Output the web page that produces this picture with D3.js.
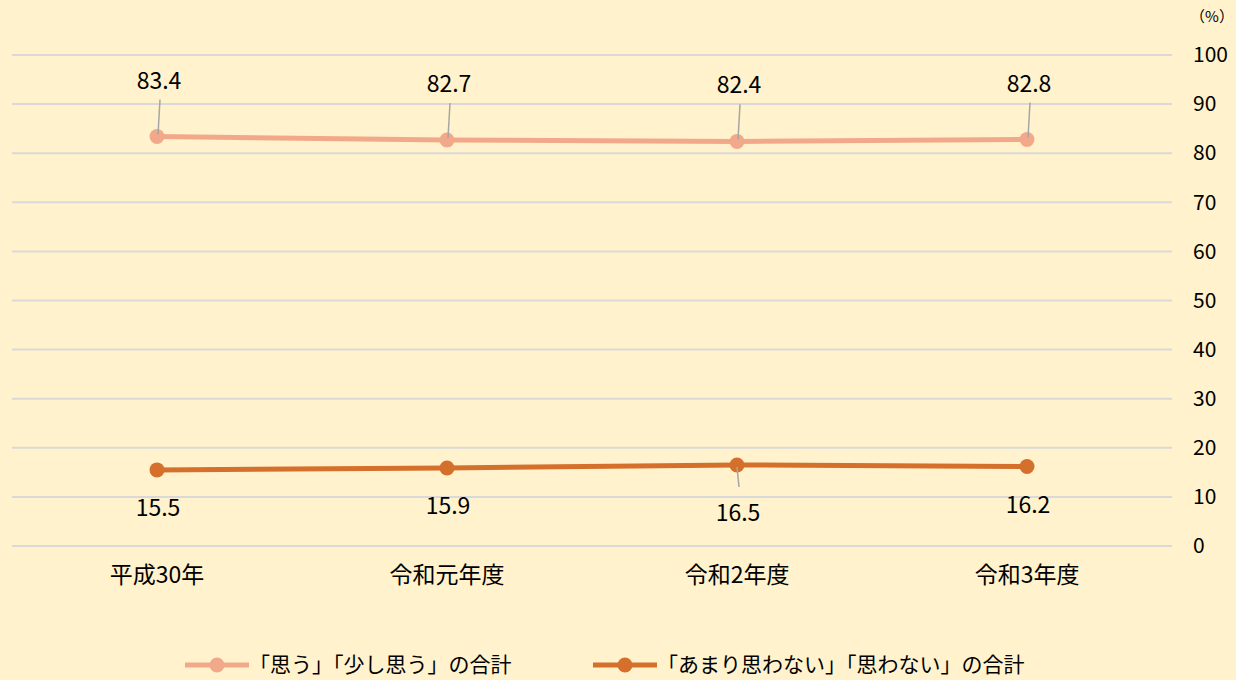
<!DOCTYPE html>
<html>
<head>
<meta charset="utf-8">
<script src="https://cdn.jsdelivr.net/npm/d3@7/dist/d3.min.js"></script>
<style>
  html, body { margin: 0; padding: 0; background: #fff2cc; }
  svg { display: block; font-family: "Noto Sans CJK JP", "Noto Sans", sans-serif; }
</style>
</head>
<body>
<div id="chart"></div>
<script>
var width = 1236,
    height = 680;

// data
var categories = ["平成30年", "令和元年度", "令和2年度", "令和3年度"];
var seriesNames = ["「思う」「少し思う」の合計", "「あまり思わない」「思わない」の合計"];
var agreeValues = [83.4, 82.7, 82.4, 82.8];
var disagreeValues = [15.5, 15.9, 16.5, 16.2];
var yTicks = [0, 10, 20, 30, 40, 50, 60, 70, 80, 90, 100];

var colors = ["#f2a98b", "#d4702c"];

var svg = d3.select("#chart").append("svg")
    .attr("width", width)
    .attr("height", height);

var xScale = d3.scaleBand().domain(categories).range([12, 1172]);
var yScale = d3.scaleLinear().domain([0, 100]).range([546, 55]);

// grid lines
svg.append("g").selectAll("line")
    .data(yTicks)
    .enter().append("line")
    .attr("x1", 12)
    .attr("x2", 1172)
    .attr("y1", function(d) { return yScale(d); })
    .attr("y2", function(d) { return yScale(d); })
    .attr("stroke", "#d9d9d9")
    .attr("stroke-width", 2);

// y axis on the right
var yAxis = d3.axisRight(yScale).tickValues(yTicks).tickSize(0).tickPadding(0);
svg.append("g")
    .attr("transform", "translate(1193,0)")
    .call(yAxis)
    .call(function(g) { g.select(".domain").remove(); })
    .selectAll("text")
    .attr("font-size", 21)
    .attr("fill", "#000")
    .attr("font-family", "'Noto Sans CJK JP', sans-serif");

svg.append("text")
    .attr("x", 1212)
    .attr("y", 22)
    .attr("text-anchor", "middle")
    .attr("font-size", 15)
    .text("（%）");

// x axis labels
var xAxis = d3.axisBottom(xScale).tickSize(0).tickPadding(0);
svg.append("g")
    .attr("transform", "translate(0,567)")
    .call(xAxis)
    .call(function(g) { g.select(".domain").remove(); })
    .selectAll("text")
    .attr("font-size", 23)
    .attr("fill", "#000")
    .attr("font-family", "'Noto Sans CJK JP', sans-serif");

var xMid = function(d, i) { return xScale(categories[i]) + xScale.bandwidth() / 2; };

var line = d3.line()
    .x(function(d, i) { return xMid(d, i); })
    .y(function(d) { return yScale(d); });

var allSeries = [agreeValues, disagreeValues];

allSeries.forEach(function(values, s) {
    var g = svg.append("g");
    g.append("path")
        .datum(values)
        .attr("d", line)
        .attr("fill", "none")
        .attr("stroke", colors[s])
        .attr("stroke-width", 5);
    g.selectAll("circle")
        .data(values)
        .enter().append("circle")
        .attr("cx", xMid)
        .attr("cy", function(d) { return yScale(d); })
        .attr("r", 7.5)
        .attr("fill", colors[s]);
});

// data labels with leader lines
var upperOffset = -56,
    lowerOffset = 38;

var upper = svg.append("g");
upper.selectAll("line")
    .data(agreeValues)
    .enter().append("line")
    .attr("x1", function(d, i) { return xMid(d, i) + 1; })
    .attr("y1", function(d) { return yScale(d) - 2; })
    .attr("x2", function(d, i) { return xMid(d, i) + 3; })
    .attr("y2", function(d) { return yScale(d) + upperOffset + 19; })
    .attr("stroke", "#a6a6a6")
    .attr("stroke-width", 1.5);
upper.selectAll("text")
    .data(agreeValues)
    .enter().append("text")
    .attr("x", function(d, i) { return xMid(d, i) + 2; })
    .attr("y", function(d) { return yScale(d) + upperOffset; })
    .attr("dy", "0.35em")
    .attr("text-anchor", "middle")
    .attr("font-size", 23)
    .text(function(d) { return d.toFixed(1); });

var lower = svg.append("g");
// only the 16.5 point gets a visible leader line (label sits further away)
lower.selectAll("line")
    .data(disagreeValues.filter(function(d) { return d === d3.max(disagreeValues); }))
    .enter().append("line")
    .attr("x1", xMid(null, 2))
    .attr("y1", function(d) { return yScale(d) + 2; })
    .attr("x2", xMid(null, 2) + 2)
    .attr("y2", function(d) { return yScale(d) + 22; })
    .attr("stroke", "#a6a6a6")
    .attr("stroke-width", 1.5);
lower.selectAll("text")
    .data(disagreeValues)
    .enter().append("text")
    .attr("x", function(d, i) { return xMid(d, i) + 1; })
    .attr("y", function(d) {
        var extra = d === d3.max(disagreeValues) ? 10 : 0;
        return yScale(d) + lowerOffset + extra;
    })
    .attr("dy", "0.35em")
    .attr("text-anchor", "middle")
    .attr("font-size", 23)
    .text(function(d) { return d.toFixed(1); });

// legend
var legendX = [185, 593];
var legend = svg.append("g");
seriesNames.forEach(function(name, s) {
    var lg = legend.append("g").attr("transform", "translate(" + legendX[s] + ",665)");
    lg.append("line")
        .attr("x1", 0).attr("x2", 64)
        .attr("stroke", colors[s])
        .attr("stroke-width", 5);
    lg.append("circle")
        .attr("cx", 32).attr("r", 7.5)
        .attr("fill", colors[s]);
    lg.append("text")
        .attr("x", 64)
        .attr("dy", "0.35em")
        .attr("font-size", 21)
        .text(name);
});
</script>
</body>
</html>
